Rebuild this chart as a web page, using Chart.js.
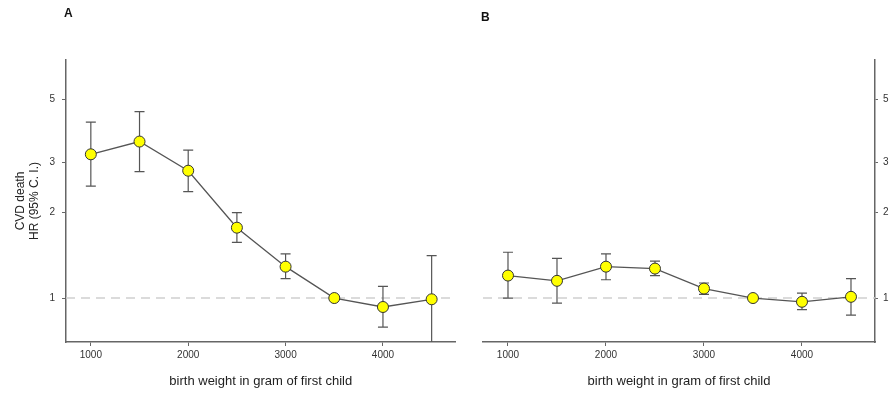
<!DOCTYPE html>
<html>
<head>
<meta charset="utf-8">
<script src="https://cdn.jsdelivr.net/npm/chart.js@4"></script>
<style>
  body { margin: 0; background: #fff; font-family: "Liberation Sans", Arial, sans-serif; }
  #wrap { position: relative; width: 892px; height: 394px; }
  .panel { position: absolute; top: 0; height: 394px; }
  .tag { position: absolute; font-weight: bold; font-size: 12px; color: #111; }
</style>
</head>
<body>
<div id="wrap">
  <div class="panel" style="left:0;width:462px"><canvas id="chartA"></canvas></div>
  <div class="panel" style="left:462px;width:430px"><canvas id="chartB"></canvas></div>
  <div class="tag" style="left:64px;top:6px">A</div>
  <div class="tag" style="left:481px;top:10px">B</div>
</div>
<script>
// birth weight (g) of first child
const weights = [1000, 1500, 2000, 2500, 3000, 3500, 4000, 4500];
const xTicks = [1000, 2000, 3000, 4000];
const yTicks = [1, 2, 3, 5];

// panel A: hazard ratio and 95% CI
const hrA = [3.21, 3.56, 2.81, 1.77, 1.29, 1.0, 0.93, 0.99];
const lowA = [2.48, 2.79, 2.37, 1.57, 1.17, 1.0, 0.79, 0.6];
const highA = [4.17, 4.54, 3.32, 2.0, 1.43, 1.0, 1.10, 1.41];

// panel B
const hrB = [1.20, 1.15, 1.29, 1.27, 1.08, 1.0, 0.97, 1.01];
const lowB = [1.0, 0.96, 1.16, 1.20, 1.03, 1.0, 0.91, 0.87];
const highB = [1.45, 1.38, 1.43, 1.35, 1.13, 1.0, 1.04, 1.17];

const fontFam = `"Liberation Sans", Arial, sans-serif`;

// reference line at HR = 1 and the confidence interval whiskers
const errorBars = {
  id: `errorBars`,
  beforeDatasetsDraw(chart) {
    const {ctx, chartArea, scales} = chart;
    const ds = chart.data.datasets[0];
    ctx.save();
    ctx.beginPath();
    ctx.rect(chartArea.left, chartArea.top, chartArea.right - chartArea.left, chartArea.bottom - chartArea.top);
    ctx.clip();

    const y1 = scales.y.getPixelForValue(1);
    ctx.strokeStyle = `#cfcfcf`;
    ctx.lineWidth = 1.5;
    ctx.setLineDash([9, 6]);
    ctx.beginPath();
    ctx.moveTo(chartArea.left, y1);
    ctx.lineTo(chartArea.right, y1);
    ctx.stroke();
    ctx.setLineDash([]);

    ctx.strokeStyle = `#555`;
    ctx.lineWidth = 1.2;
    ds.data.forEach((p, i) => {
      const x = scales.x.getPixelForValue(p.x);
      const lo = scales.y.getPixelForValue(ds.low[i]);
      const hi = scales.y.getPixelForValue(ds.high[i]);
      ctx.beginPath();
      ctx.moveTo(x, lo);
      ctx.lineTo(x, hi);
      ctx.moveTo(x - 5, lo);
      ctx.lineTo(x + 5, lo);
      ctx.moveTo(x - 5, hi);
      ctx.lineTo(x + 5, hi);
      ctx.stroke();
    });
    ctx.restore();
  }
};

function makeChart(id, hr, low, high, side) {
  const left = side === `left`;
  return new Chart(document.getElementById(id), {
    type: `line`,
    data: {
      datasets: [{
        data: weights.map((w, i) => ({x: w, y: hr[i]})),
        low: low,
        high: high,
        borderColor: `#555`,
        borderWidth: 1.3,
        pointRadius: 5.5,
        pointBackgroundColor: `#ffff00`,
        pointBorderColor: `#333`,
        pointBorderWidth: 1,
        tension: 0
      }]
    },
    options: {
      responsive: true,
      maintainAspectRatio: false,
      animation: false,
      layout: {padding: left ? {top: 60, right: 4, left: 0, bottom: 0} : {top: 60, right: 0, left: 21, bottom: 0}},
      plugins: {legend: {display: false}, tooltip: {enabled: false}},
      scales: {
        x: {
          type: `linear`,
          min: 745,
          max: 4745,
          afterBuildTicks: s => { s.ticks = xTicks.map(v => ({value: v})); },
          afterFit: s => { s.height = 52; },
          grid: {drawOnChartArea: false, drawTicks: true, tickLength: 4, color: `#666`},
          border: {display: true, color: `#666`, width: 1.5},
          ticks: {font: {family: fontFam, size: 10}, color: `#333`, padding: 3, maxRotation: 0, autoSkip: false, callback: v => String(v)},
          title: {
            display: true,
            text: `birth weight in gram of first child`,
            font: {family: fontFam, size: 13},
            color: `#222`,
            padding: {top: 4, bottom: 5}
          }
        },
        y: {
          type: `logarithmic`,
          position: side,
          min: 0.7,
          max: 6.9,
          afterBuildTicks: s => { s.ticks = yTicks.map(v => ({value: v})); },
          afterFit: s => { s.width = left ? 66 : 17; },
          grid: {drawOnChartArea: false, drawTicks: true, tickLength: left ? 4 : 3, color: `#666`},
          border: {display: true, color: `#666`, width: 1.5},
          ticks: {font: {family: fontFam, size: 10}, color: `#333`, padding: left ? 7 : 5, callback: v => String(v)},
          title: {
            display: left,
            text: [`CVD death`, `HR (95% C. I.)`],
            font: {family: fontFam, size: 12},
            color: `#222`,
            padding: {top: 13, bottom: 0}
          }
        }
      }
    },
    plugins: [errorBars]
  });
}

makeChart(`chartA`, hrA, lowA, highA, `left`);
makeChart(`chartB`, hrB, lowB, highB, `right`);
</script>
</body>
</html>
